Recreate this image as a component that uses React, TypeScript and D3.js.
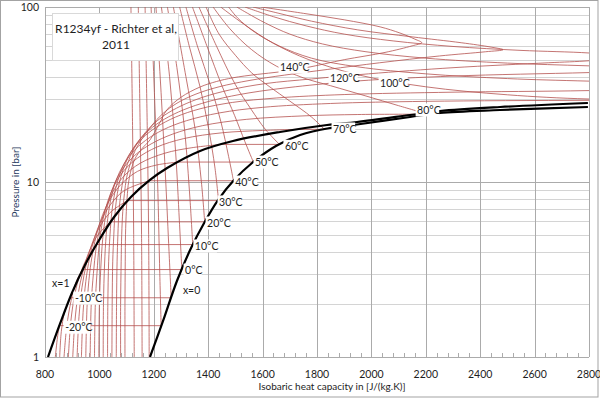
import React from "react";
import * as d3 from "d3";

type Pt = [number, number]; // [cp in J/(kg.K), pressure in bar]

// ---- axes ----
const X_TICKS = [800, 1000, 1200, 1400, 1600, 1800, 2000, 2200, 2400, 2600, 2800];
const Y_TICKS = [1, 10, 100];
const Y_MINOR = [2, 3, 4, 5, 6, 7, 8, 9, 20, 30, 40, 50, 60, 70, 80, 90];

// ---- saturation curves ----
const SAT_VAPOR: Pt[] = [
  [811, 1.0], [855, 1.544], [899, 2.321], [947, 3.355], [999, 4.663], [1054, 6.31],
  [1116, 8.21], [1186, 10.27], [1249, 12.02], [1370, 15.04], [1491, 17.15], [1664, 19.31],
  [1837, 21.17], [1947, 22.02], [2142, 24.14], [2252, 25.45], [2473, 26.83], [2796, 28.28],
];
const SAT_LIQUID: Pt[] = [
  [1186, 1.0], [1234, 1.606], [1285, 2.719], [1337, 4.196], [1385, 5.832], [1436, 7.89],
  [1495, 10.27], [1561, 12.84], [1649, 16.06], [1738, 18.56], [1848, 20.35], [1947, 21.31],
  [2142, 23.52], [2252, 24.8], [2473, 25.79], [2796, 26.83],
];

// ---- isotherms: liquid only (p_sat below 1 bar) ----
const T_LIQ_ONLY = [-50, -40, -30];
const LIQ_ONLY: Pt[][] = [
  [[1128, 1], [1126, 5], [1122, 20], [1116, 100]],
  [[1157, 1], [1155, 5], [1150, 20], [1143, 100]],
  [[1183, 1], [1181, 5], [1176, 20], [1168, 100]],
];

// ---- isotherms: subcritical (vapour branch, jump at p_sat, liquid branch) ----
const T_SUB = [-20, -10, 0, 10, 20, 30, 40, 50, 60, 70, 80, 90];
const VAPOR_BRANCH: Pt[][] = [
  [[838, 1], [846, 1.3], [853, 1.51]],
  [[854, 1], [860, 1.4], [872, 1.8], [893, 2.18]],
  [[870, 1], [880, 1.5], [896, 2.1], [915, 2.7], [939, 3.16]],
  [[886, 1], [895, 1.6], [910, 2.3], [930, 3.0], [955, 3.7], [989, 4.39]],
  [[902, 1], [910, 1.6], [922, 2.3], [940, 3.1], [962, 4.0], [995, 5.0], [1042, 5.92]],
  [[918, 1], [925, 1.7], [936, 2.5], [952, 3.4], [972, 4.4], [1000, 5.5], [1040, 6.7], [1103, 7.83]],
  [[934, 1], [940, 1.8], [950, 2.7], [964, 3.7], [982, 4.8], [1006, 6.0], [1040, 7.4], [1090, 8.9], [1183, 10.17]],
  [[950, 1], [955, 2], [964, 3], [976, 4], [992, 5.2], [1012, 6.5], [1040, 8], [1080, 9.7], [1140, 11.5], [1210, 12.5], [1291, 13.0]],
  [[966, 1], [970, 2], [978, 3], [988, 4.2], [1002, 5.5], [1022, 7], [1050, 8.8], [1090, 10.8], [1150, 12.8], [1240, 14.6], [1340, 15.7], [1450, 16.4]],
  [[982, 1], [985, 2], [991, 3], [1000, 4.5], [1012, 6], [1030, 7.7], [1055, 9.6], [1090, 11.6], [1140, 13.7], [1210, 15.8], [1310, 17.7], [1450, 19.1], [1600, 19.7], [1730, 20.0]],
  [[998, 1], [1000, 2], [1005, 3.2], [1012, 4.7], [1022, 6.3], [1036, 8], [1058, 10], [1088, 12], [1130, 14.2], [1190, 16.5], [1270, 18.8], [1380, 21], [1540, 22.8], [1760, 23.9], [1950, 24.3], [2164, 24.4]],
  [[1014, 1], [1015, 2], [1019, 3.4], [1025, 5], [1033, 6.6], [1045, 8.4], [1063, 10.4], [1088, 12.5], [1122, 14.8], [1170, 17.3], [1235, 19.9], [1320, 22.4], [1440, 24.8], [1600, 26.7], [1850, 28.1], [2200, 28.9], [2800, 29.3], [3300, 29.4]],
];
const LIQUID_BRANCH: Pt[][] = [
  [[1227, 1.51], [1222, 3], [1214, 10], [1203, 30], [1190, 100]],
  [[1264, 2.18], [1256, 4], [1244, 10], [1228, 30], [1208, 100]],
  [[1303, 3.16], [1294, 6], [1280, 15], [1258, 40], [1228, 100]],
  [[1343, 4.39], [1333, 8], [1313, 20], [1285, 45], [1250, 100]],
  [[1387, 5.92], [1375, 10], [1352, 20], [1318, 40], [1272, 100]],
  [[1438, 7.83], [1425, 12], [1402, 20], [1370, 35], [1330, 60], [1295, 100]],
  [[1493, 10.17], [1475, 14], [1447, 22], [1410, 35], [1360, 60], [1318, 100]],
  [[1566, 13.0], [1535, 17], [1497, 24], [1452, 35], [1395, 60], [1342, 100]],
  [[1662, 16.4], [1610, 20], [1558, 26], [1500, 36], [1430, 60], [1366, 100]],
  [[1827, 20.0], [1780, 23.5], [1700, 29], [1627, 34.9], [1560, 42], [1500, 53], [1440, 70], [1392, 100]],
  [[2200, 24.6], [2100, 27.3], [1980, 31], [1850, 35.5], [1749, 39.4], [1650, 46], [1560, 57], [1480, 75], [1418, 100]],
  [[3300, 29.4], [2800, 29.8], [2500, 31.5], [2200, 35], [1950, 41], [1770, 50], [1640, 62], [1530, 80], [1446, 100]],
];

// ---- isotherms: supercritical ----
const T_SUPER = [100, 110, 120, 130, 140];
const SUPER: Pt[][] = [
  [[1030, 1], [1031, 2], [1034, 3.5], [1039, 5], [1046, 6.8], [1056, 8.6], [1071, 10.6], [1092, 12.8], [1120, 15.2], [1158, 17.8], [1210, 20.6], [1280, 23.5], [1370, 26.2], [1490, 28.5], [1650, 30.2], [1900, 31.6], [2300, 32.6], [2800, 33.3], [3500, 35.5], [2800, 37.7], [2500, 39], [2200, 41.5], [1950, 45.5], [1780, 51], [1660, 60], [1570, 72], [1510, 86], [1475, 100]],
  [[1046, 1], [1047, 2], [1049, 3.5], [1053, 5], [1058, 6.8], [1066, 8.6], [1078, 10.6], [1096, 12.8], [1120, 15.2], [1152, 17.8], [1196, 20.6], [1255, 23.6], [1330, 26.6], [1425, 29.5], [1550, 32.3], [1720, 35], [1950, 37.8], [2300, 40.3], [2800, 42.2], [3200, 44], [2800, 46.1], [2500, 47.8], [2200, 51], [1980, 55.5], [1820, 61.5], [1700, 70], [1610, 81], [1545, 92], [1505, 100]],
  [[1062, 1], [1063, 2], [1065, 3.5], [1068, 5], [1072, 6.8], [1079, 8.6], [1089, 10.6], [1104, 12.8], [1124, 15.2], [1152, 17.8], [1190, 20.8], [1238, 24], [1300, 27.2], [1380, 30.5], [1480, 33.6], [1610, 36.5], [1780, 38.8], [1990, 41.5], [2300, 45], [2650, 48], [2800, 49.3], [2950, 52], [2800, 54.6], [2550, 56.5], [2300, 59.5], [2080, 64], [1900, 70], [1760, 78], [1640, 88], [1535, 100]],
  [[1078, 1], [1078, 2], [1080, 3.5], [1082, 5], [1086, 6.8], [1092, 8.6], [1100, 10.6], [1114, 12.8], [1132, 15.2], [1158, 17.8], [1192, 21], [1232, 24.5], [1285, 28.2], [1355, 31.8], [1440, 35], [1550, 38], [1680, 40.8], [1840, 44], [2030, 48], [2250, 52.5], [2420, 55.5], [2484, 57], [2440, 59], [2330, 62.5], [2150, 67.5], [1950, 74], [1780, 83], [1660, 92], [1565, 100]],
  [[1094, 1], [1094, 2], [1095, 3.5], [1096, 5], [1099, 6.8], [1103, 8.6], [1110, 10.6], [1130, 13.5], [1158, 15.6], [1186, 17.4], [1220, 21.5], [1248, 25.8], [1300, 30.5], [1370, 34.9], [1430, 37.5], [1491, 39.4], [1580, 41.2], [1664, 42.6], [1760, 45], [1900, 50], [2050, 55], [2150, 60], [2185, 62.5], [2160, 65.5], [2105, 71], [2032, 77], [1900, 84.5], [1750, 92], [1595, 100]],
];

// ---- data labels ----
const LABEL_TEXT = ["0°C", "10°C", "20°C", "30°C", "40°C", "50°C", "60°C", "70°C", "80°C", "x=0", "x=1", "-10°C", "-20°C", "140°C", "120°C", "100°C"];
const LABEL_CP = [1315, 1351, 1396, 1440, 1499, 1572, 1682, 1859, 2168, 1307, 826, 910, 874, 1664, 1848, 2032];
const LABEL_P = [3.14, 4.31, 5.83, 7.69, 10.0, 13.0, 16.0, 20.1, 25.8, 2.41, 2.65, 2.17, 1.48, 45.3, 39.2, 36.7];

const TITLE_LINES = ["R1234yf - Richter et al,", "2011"];
const X_TITLE = "Isobaric heat capacity in [J/(kg.K)]";
const Y_TITLE = "Pressure in [bar]";

const RED = "#b5524f";
const FONT = "Lato, Carlito, 'Open Sans', sans-serif";

function textWidth(s: string): number {
  let w = 0;
  for (const ch of s) {
    if (ch === "°") w += 3.6;
    else if (ch === "C") w += 6;
    else if (ch === "-") w += 3.4;
    else if (ch === "=") w += 5.6;
    else if (ch === "x") w += 5;
    else w += 5.5;
  }
  return w;
}

export default function App() {
  const x = d3.scaleLinear().domain([800, 2800]).range([45, 589]);
  const y = d3.scaleLog().domain([1, 100]).range([357, 7]);
  const curve = d3
    .line<Pt>()
    .x((d) => x(d[0]))
    .y((d) => y(d[1]))
    .curve(d3.curveCatmullRom.alpha(0.5));
  const straight = d3
    .line<Pt>()
    .x((d) => x(d[0]))
    .y((d) => y(d[1]));
  const snap = (v: number) => Math.round(v) + 0.5;
  const minorX = d3.range(800, 2800, 40).filter((v) => (v - 800) % 200 !== 0);
  const [x0, x1] = x.range();
  const [yb, yt] = y.range();

  return (
    <svg
      width={600}
      height={399}
      style={{ position: "absolute", left: 0, top: 0, background: "#fff" }}
      fontFamily={FONT}
    >
      <defs>
        <clipPath id="plotClip">
          <rect x={x0} y={yt} width={x1 - x0} height={yb - yt} />
        </clipPath>
      </defs>
      <rect x={0.5} y={0.5} width={597.5} height={396.5} fill="#fff" stroke="#a3a3a3" />

      {Y_MINOR.map((v) => (
        <line key={"ym" + v} x1={x0} x2={x1} y1={snap(y(v))} y2={snap(y(v))} stroke="#d4d4d4" strokeWidth={1} />
      ))}
      {Y_TICKS.map((v) => (
        <line key={"yM" + v} x1={x0} x2={x1} y1={snap(y(v))} y2={snap(y(v))} stroke="#ababab" strokeWidth={1} />
      ))}
      {X_TICKS.map((v) => (
        <line key={"xM" + v} x1={snap(x(v))} x2={snap(x(v))} y1={yt} y2={yb} stroke="#ababab" strokeWidth={1} />
      ))}
      {minorX.map((v) => (
        <line key={"xm" + v} x1={snap(x(v))} x2={snap(x(v))} y1={yb - 4} y2={yb} stroke="#ababab" strokeWidth={1} />
      ))}

      <g clipPath="url(#plotClip)" fill="none" stroke={RED} strokeWidth={0.8}>
        {LIQ_ONLY.map((pts, i) => (
          <path key={"lo" + T_LIQ_ONLY[i]} d={curve(pts) || ""} />
        ))}
        {T_SUB.map((t, i) => {
          const v = VAPOR_BRANCH[i];
          const l = LIQUID_BRANCH[i];
          const jump: Pt[] = [v[v.length - 1], l[0]];
          return (
            <g key={"sub" + t}>
              <path d={curve(v) || ""} />
              <path d={straight(jump) || ""} />
              <path d={curve(l) || ""} />
            </g>
          );
        })}
        {SUPER.map((pts, i) => (
          <path key={"sc" + T_SUPER[i]} d={curve(pts) || ""} />
        ))}
      </g>

      <g clipPath="url(#plotClip)" fill="none" stroke="#000" strokeWidth={2.2}>
        <path d={curve(SAT_VAPOR) || ""} />
        <path d={curve(SAT_LIQUID) || ""} />
      </g>

      {LABEL_TEXT.map((t, i) => {
        const lx = x(LABEL_CP[i]);
        const ly = y(LABEL_P[i]);
        const w = textWidth(t);
        return (
          <g key={"lab" + i}>
            <rect x={lx - 1.5} y={ly - 6.5} width={w + 3} height={13} fill="#fff" />
            <text x={lx} y={ly} dy="0.35em" fontSize={10.5} fill="#1e1e1e">
              {t}
            </text>
          </g>
        );
      })}

      <rect x={52.5} y={13.5} width={126} height={47} fill="#fff" stroke="#d9d9d9" />
      <text x={116} y={29} dy="0.35em" fontSize={12} textAnchor="middle" fill="#1e1e1e">
        {TITLE_LINES[0]}
      </text>
      <text x={116} y={44.5} dy="0.35em" fontSize={12} textAnchor="middle" fill="#1e1e1e">
        {TITLE_LINES[1]}
      </text>

      {X_TICKS.map((v) => (
        <text key={"xt" + v} x={x(v)} y={374} dy="0.35em" fontSize={10.5} textAnchor="middle" fill="#1e1e1e">
          {v}
        </text>
      ))}
      {Y_TICKS.map((v) => (
        <text key={"yt" + v} x={39} y={y(v)} dy="0.35em" fontSize={10.5} textAnchor="end" fill="#1e1e1e">
          {v}
        </text>
      ))}

      <text x={332} y={386} dy="0.35em" fontSize={10} textAnchor="middle" fill="#1e1e1e">
        {X_TITLE}
      </text>
      <text
        transform={`translate(15, ${(yt + yb) / 2}) rotate(-90)`}
        dy="0.35em"
        fontSize={10}
        textAnchor="middle"
        fill="#1f3a60"
      >
        {Y_TITLE}
      </text>
    </svg>
  );
}
